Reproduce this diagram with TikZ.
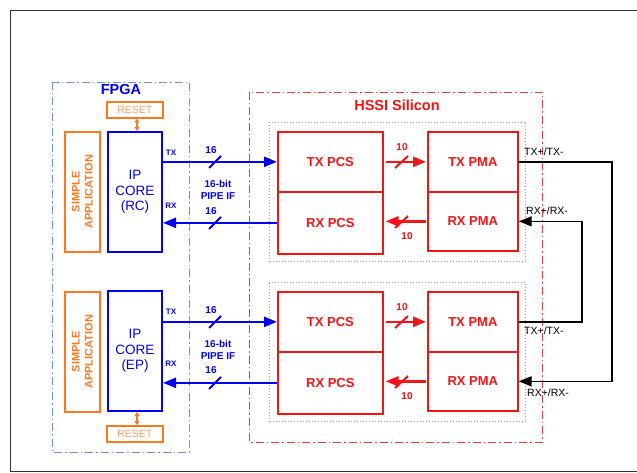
\documentclass[tikz,border=0pt]{standalone}
\usepackage{fontspec}
\setmainfont{Liberation Sans}
\usetikzlibrary{arrows.meta}
\definecolor{myblue}{RGB}{0,0,245}
\definecolor{myred}{RGB}{245,20,20}
\definecolor{myorange}{RGB}{255,120,30}
\definecolor{lightorange}{RGB}{250,160,100}
\definecolor{fpgablue}{RGB}{110,145,240}
\definecolor{hssired}{RGB}{240,60,60}
\tikzset{
  x=1pt, y=-1pt,
  dashdot/.style={dash pattern=on 8pt off 3pt on 1.5pt off 3pt, line width=0.9pt},
  redbox/.style={draw=myred, line width=1.7pt, anchor=north west, inner sep=0pt,
     font=\bfseries\fontsize{13}{15}\selectfont, text=myred},
  dotbox/.style={draw=gray!75, dotted, line width=1pt, anchor=north west, inner sep=0pt},
  ipbox/.style={draw=myblue, line width=2pt, anchor=north west, inner sep=0pt, align=center,
     text=myblue, font=\fontsize{13.5}{15.5}\selectfont, minimum width=54pt, minimum height=120pt},
  appbox/.style={draw=myorange, line width=1.7pt, anchor=north west, inner sep=0pt,
     minimum width=35pt, minimum height=120pt},
  apptext/.style={rotate=90, align=center, text=myorange, font=\bfseries\fontsize{11}{13}\selectfont},
  resetbox/.style={draw=myorange, line width=1.7pt, anchor=north west, inner sep=0pt,
     minimum width=56pt, minimum height=16pt, text=lightorange, font=\fontsize{10.5}{12}\selectfont},
  barrow/.style={draw=myblue, line width=2.4pt, -{Triangle[length=13pt,width=10pt]}},
  rarrow/.style={draw=myred, line width=2.4pt, -{Triangle[length=13pt,width=10pt]}},
  karrow/.style={draw=black, line width=1.4pt, -{Triangle[length=13pt,width=10pt]}},
  oarrow/.style={draw=myorange, line width=1.5pt, {Triangle[length=4pt,width=5pt]}-{Triangle[length=4pt,width=5pt]}},
  bslash/.style={draw=myblue, line width=2pt},
  rslash/.style={draw=myred, line width=2pt},
  blab/.style={text=myblue, font=\bfseries\fontsize{10}{12}\selectfont, inner sep=0pt, align=center},
  rlab/.style={text=myred, font=\bfseries\fontsize{10}{12}\selectfont, inner sep=0pt},
  txlab/.style={text=myblue, font=\bfseries\fontsize{8}{9}\selectfont, inner sep=0pt},
  klab/.style={text=black, font=\fontsize{10.5}{12}\selectfont, inner sep=0pt, anchor=west},
}
\begin{document}
\begin{tikzpicture}
\useasboundingbox (0,0) rectangle (637,473);
\fill[white] (0,0) rectangle (637,473);
% outer frame
\draw[line width=1pt, black!80] (637,11) -- (10,11) -- (10,471) -- (637,471);

% FPGA and HSSI regions
\draw[dashdot, fpgablue] (52,82) rectangle (189,452);
\node[text=myblue, font=\bfseries\fontsize{14.5}{16}\selectfont] (fpgalab) at (121,90) {FPGA};
\draw[dashdot, hssired] (249,92) rectangle (542,442);
\node[text=myred, font=\bfseries\fontsize{14.5}{16}\selectfont] (hssilab) at (397,105) {HSSI Silicon};

% ---------- top channel ----------
\node[dotbox, minimum width=256pt, minimum height=139pt] (dotA) at (269,122) {};
\node[redbox, minimum width=105pt, minimum height=60pt] (txpcsA) at (277,131) {TX PCS};
\node[redbox, minimum width=105pt, minimum height=62pt] (rxpcsA) at (277,191) {RX PCS};
\node[redbox, minimum width=90pt, minimum height=60pt] (txpmaA) at (427,131) {TX PMA};
\node[redbox, minimum width=90pt, minimum height=59pt] (rxpmaA) at (427,191) {RX PMA};

\node[appbox] (appA) at (64,131) {};
\node[apptext] (appAt) at (appA.center) {SIMPLE\\APPLICATION};
\node[ipbox] (ipA) at (107,131) {IP\\CORE\\(RC)};
\node[resetbox] (resetA) at (106,101) {RESET};
\draw[oarrow] (resetA.south -| 137,0) -- (ipA.north -| 137,0);

\draw[barrow] (ipA.east |- txpcsA.west) -- (txpcsA.west);
\draw[barrow] (rxpcsA.west) -- (ipA.east |- rxpcsA.west);
\draw[bslash] (209,168) -- (221,156);
\draw[bslash] (209,229) -- (221,217);
\node[txlab] (txA) at (171,153) {TX};
\node[txlab] (rxA) at (171,206) {RX};
\node[blab] (w16a) at (211,150) {16};
\node[blab] (w16b) at (211,211) {16};
\node[blab] (pipeA) at (218,190) {16-bit\\PIPE IF};

\draw[rarrow] ([xshift=2pt]txpcsA.east) -- ([xshift=-1pt]txpmaA.west);
\draw[rarrow] ([xshift=-1pt]rxpmaA.west) -- ([xshift=2pt]rxpcsA.east |- rxpmaA.west);
\draw[rslash] (395,168) -- (408,156);
\draw[rslash] (395,228) -- (408,216);
\node[rlab] (r10a) at (402,147) {10};
\node[rlab] (r10b) at (407,236) {10};

% ---------- bottom channel ----------
\node[dotbox, minimum width=256pt, minimum height=139pt] (dotB) at (269,282) {};
\node[redbox, minimum width=105pt, minimum height=60pt] (txpcsB) at (277,291) {TX PCS};
\node[redbox, minimum width=105pt, minimum height=62pt] (rxpcsB) at (277,351) {RX PCS};
\node[redbox, minimum width=90pt, minimum height=60pt] (txpmaB) at (427,291) {TX PMA};
\node[redbox, minimum width=90pt, minimum height=59pt] (rxpmaB) at (427,351) {RX PMA};

\node[appbox] (appB) at (64,291) {};
\node[apptext] (appBt) at (appB.center) {SIMPLE\\APPLICATION};
\node[ipbox] (ipB) at (107,290) {IP\\CORE\\(EP)};
\node[resetbox] (resetB) at (106,425) {RESET};
\draw[oarrow] (ipB.south -| 137,0) -- (resetB.north -| 137,0);

\draw[barrow] (ipB.east |- txpcsB.west) -- (txpcsB.west);
\draw[barrow] (rxpcsB.west) -- (ipB.east |- rxpcsB.west);
\draw[bslash] (209,328) -- (221,316);
\draw[bslash] (209,389) -- (221,377);
\node[txlab] (txB) at (171,312) {TX};
\node[txlab] (rxB) at (171,364) {RX};
\node[blab] (w16c) at (211,310) {16};
\node[blab] (w16d) at (211,370) {16};
\node[blab] (pipeB) at (218,350) {16-bit\\PIPE IF};

\draw[rarrow] ([xshift=2pt]txpcsB.east) -- ([xshift=-1pt]txpmaB.west);
\draw[rarrow] ([xshift=-1pt]rxpmaB.west) -- ([xshift=2pt]rxpcsB.east |- rxpmaB.west);
\draw[rslash] (395,328) -- (408,316);
\draw[rslash] (395,388) -- (408,376);
\node[rlab] (r10c) at (402,307) {10};
\node[rlab] (r10d) at (407,396) {10};

% ---------- serial links ----------
\coordinate (outerx) at (612,0);
\coordinate (innerx) at (582,0);
\draw[karrow] (txpmaA.east) -- (txpmaA.east -| outerx) -- (rxpmaB.east -| outerx) -- (rxpmaB.east);
\draw[karrow] (txpmaB.east) -- (txpmaB.east -| innerx) -- (rxpmaA.east -| innerx) -- (rxpmaA.east);
\node[klab] (l1) at (524,152) {TX+/TX-};
\node[klab] (l2) at (526,211) {RX+/RX-};
\node[klab] (l3) at (524,331) {TX+/TX-};
\node[klab] (l4) at (527,393) {RX+/RX-};
\end{tikzpicture}
\end{document}
